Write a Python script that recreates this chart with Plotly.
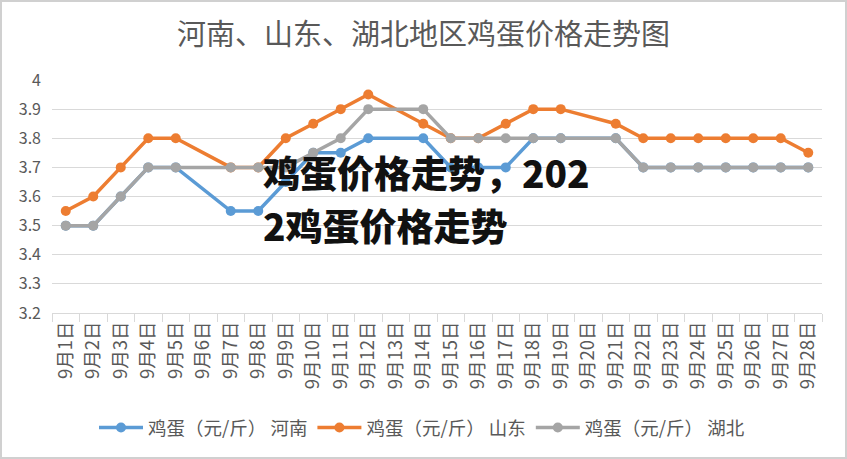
import plotly.graph_objects as go

days = [f"9月{i}日" for i in range(1, 29)]
henan = [3.5, 3.5, 3.6, 3.7, 3.7, None, 3.55, 3.55, 3.65, 3.75, 3.75, 3.8, None, 3.8,
         3.7, 3.7, 3.7, 3.8, 3.8, None, 3.8, 3.7, 3.7, 3.7, 3.7, 3.7, 3.7, 3.7]
shandong = [3.55, 3.6, 3.7, 3.8, 3.8, None, 3.7, 3.7, 3.8, 3.85, 3.9, 3.95, None, 3.85,
            3.8, 3.8, 3.85, 3.9, 3.9, None, 3.85, 3.8, 3.8, 3.8, 3.8, 3.8, 3.8, 3.75]
hubei = [3.5, 3.5, 3.6, 3.7, 3.7, None, 3.7, 3.7, 3.7, 3.75, 3.8, 3.9, None, 3.9,
         3.8, 3.8, 3.8, 3.8, 3.8, None, 3.8, 3.7, 3.7, 3.7, 3.7, 3.7, 3.7, 3.7]
series_names = ["鸡蛋（元/斤） 河南", "鸡蛋（元/斤） 山东", "鸡蛋（元/斤） 湖北"]
colors = ["#5B9BD5", "#ED7D31", "#A5A5A5"]
y_ticks = [3.2, 3.3, 3.4, 3.5, 3.6, 3.7, 3.8, 3.9, 4.0]
y_tick_text = ["3.2", "3.3", "3.4", "3.5", "3.6", "3.7", "3.8", "3.9", "4"]
title_text = "河南、山东、湖北地区鸡蛋价格走势图"
overlay_lines = ["鸡蛋价格走势，202", "2鸡蛋价格走势"]

W, H = 847, 459
ML, MR, MT, MB = 52, 25, 80, 146
FONT = "Noto Sans CJK SC"

fig = go.Figure()
for name, vals, col in zip(series_names, [henan, shandong, hubei], colors):
    fig.add_trace(go.Scatter(
        x=days, y=vals, name=name, mode="lines+markers", connectgaps=True,
        line=dict(color=col, width=3.5), marker=dict(color=col, size=10),
    ))

pw = W - ML - MR
ph = H - MT - MB
fig.update_layout(
    width=W, height=H,
    margin=dict(l=ML, r=MR, t=MT, b=MB),
    paper_bgcolor="white", plot_bgcolor="white",
    font=dict(family=FONT, color="#595959"),
    title=dict(text=title_text, x=0.5, xanchor="center", y=1 - 35 / H, yanchor="middle",
               font=dict(size=29, color="#595959", family=FONT)),
    showlegend=True,
    legend=dict(orientation="h", x=(422 - ML) / pw, xanchor="center", y=(MT + ph - 428) / ph,
                yanchor="middle",
                font=dict(size=18.5, color="#595959", family=FONT), itemwidth=44,
                traceorder="normal", bgcolor="rgba(0,0,0,0)"),
    xaxis=dict(type="category", range=[-0.5, 27.5], tickangle=-90,
               tickfont=dict(size=18.5, color="#595959", family=FONT),
               showgrid=False, showline=True, linecolor="#D9D9D9", linewidth=1,
               ticks="outside", tickson="boundaries", ticklen=8, tickcolor="#D9D9D9",
               fixedrange=True),
    yaxis=dict(range=[3.2, 4.0], tickvals=y_ticks, ticktext=y_tick_text,
               tickfont=dict(size=16, color="#595959", family=FONT),
               showgrid=True, gridcolor="#D9D9D9", gridwidth=1, zeroline=False,
               showline=False, ticks="", ticklabelstandoff=10),
)

# overlay text
fig.add_annotation(text=overlay_lines[0], xref="paper", yref="paper",
                   x=(261 - ML) / pw, y=(MT + ph - 172) / ph, xanchor="left", yanchor="middle",
                   showarrow=False, font=dict(size=37, color="#111111", family=FONT, weight=900))
fig.add_annotation(text=overlay_lines[1], xref="paper", yref="paper",
                   x=(261 - ML) / pw, y=(MT + ph - 225) / ph, xanchor="left", yanchor="middle",
                   showarrow=False, font=dict(size=37, color="#111111", family=FONT, weight=900))

# outer border
fig.add_shape(type="rect", xref="paper", yref="paper",
              x0=-(ML - 1) / pw, x1=1 + (MR - 1) / pw, y0=-(MB - 1) / ph, y1=1 + (MT - 1) / ph,
              line=dict(color="#D0D0D0", width=2), layer="below")

fig.write_html("out.html", config={"displayModeBar": False},
               post_script="document.body.style.margin='0';")
